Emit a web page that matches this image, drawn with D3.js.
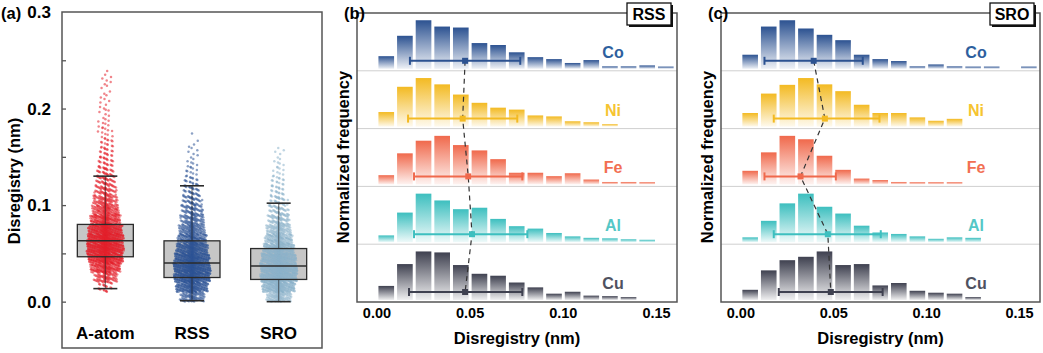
<!DOCTYPE html>
<html>
<head>
<meta charset="utf-8">
<script src="https://cdn.jsdelivr.net/npm/d3@7"></script>
<style>
  body { margin: 0; background: #fff; }
  svg { font-family: "Liberation Sans", Arial, sans-serif; font-weight: bold; }
</style>
</head>
<body>
<svg id="fig" width="1043" height="353"></svg>
<script>
// ---------------- data ----------------
// panel (a): box statistics [whiskerLow, q1, median, q3, whiskerHigh]
var boxCats = ["A-atom", "RSS", "SRO"];
var boxStats = [
  [0.0135, 0.0465, 0.063, 0.080, 0.130],
  [0.001, 0.025, 0.040, 0.063, 0.120],
  [0.000, 0.023, 0.037, 0.055, 0.102]
];
var ptColors = ["#e3202b", "#2d5495", "#8db3cb"];
// point counts per 0.01 nm bin
var binStart = [0.01, 0.00, 0.00];
var ptCounts = [
  [20, 80, 170, 260, 300, 290, 240, 170, 120, 85, 60, 45, 32, 24, 18, 14, 10, 8, 6, 5, 5, 5, 4],
  [90, 200, 280, 300, 260, 200, 150, 110, 80, 60, 45, 30, 18, 10, 7, 5, 3, 1],
  [100, 230, 310, 320, 270, 200, 140, 95, 65, 45, 30, 20, 14, 9, 6, 4]
];
var yTicksA = [0.0, 0.1, 0.2, 0.3];

// panels (b), (c): normalized histograms, bins of 0.01 nm
var elements = ["Co", "Ni", "Fe", "Al", "Cu"];
var elColors = ["#2c5291", "#f3ba22", "#f0694c", "#3dbfbf", "#3f4150"];
var labColors = ["#2e5f9e", "#f6c431", "#f26f52", "#55c7c6", "#4f5160"];
var histRSS = [
  [0.26, 0.68, 1.0, 0.87, 0.85, 0.53, 0.49, 0.34, 0.24, 0.20, 0.12, 0.18, 0.05, 0.05, 0.07, 0.04],
  [0.30, 0.82, 1.0, 0.87, 0.66, 0.49, 0.39, 0.35, 0.23, 0.21, 0.11, 0.09, 0.05],
  [0.19, 0.64, 0.90, 1.0, 0.81, 0.70, 0.52, 0.24, 0.24, 0.17, 0.23, 0.10, 0.05, 0.05, 0.03],
  [0.14, 0.61, 1.0, 0.86, 0.68, 0.71, 0.48, 0.33, 0.28, 0.19, 0.12, 0.09, 0.08, 0.06, 0.05],
  [0.29, 0.74, 1.0, 0.98, 0.72, 0.54, 0.50, 0.36, 0.26, 0.13, 0.17, 0.09, 0.08, 0.06]
];
var histSRO = [
  [0.29, 0.87, 1.0, 0.83, 0.70, 0.59, 0.29, 0.20, 0.16, 0.05, 0.09, 0.05, 0.03, 0.03, 0, 0.03],
  [0.28, 0.68, 0.86, 1.0, 0.87, 0.73, 0.45, 0.28, 0.28, 0.19, 0.12, 0.16],
  [0.28, 0.66, 1.0, 0.93, 0.59, 0.30, 0.12, 0.09, 0.05, 0.04, 0.04, 0.04],
  [0.10, 0.44, 0.80, 1.0, 0.73, 0.59, 0.34, 0.20, 0.17, 0.12, 0.07, 0.10, 0.09],
  [0.21, 0.61, 0.82, 0.89, 1.0, 0.72, 0.74, 0.30, 0.35, 0.19, 0.15, 0.13, 0.06]
];
// error bars [low, mean, high]
var errRSS = [
  [0.0177, 0.0473, 0.0769],
  [0.0167, 0.0460, 0.0753],
  [0.0199, 0.0490, 0.0780],
  [0.0199, 0.0510, 0.0807],
  [0.0172, 0.0473, 0.0780]
];
var errSRO = [
  [0.0127, 0.0392, 0.0656],
  [0.0177, 0.0452, 0.0746],
  [0.0127, 0.0321, 0.0511],
  [0.0177, 0.0468, 0.0753],
  [0.0204, 0.0484, 0.0763]
];
var xTicksH = [0.00, 0.05, 0.10, 0.15];

var svg = d3.select("#fig");
var defs = svg.append("defs");

// ####################################################################
// panel (a)
var aL = 62, aR = 322, aT = 12, aB = 348;
var xA = d3.scaleBand().domain(boxCats).range([aL, aR]).paddingOuter(0).paddingInner(0);
var yA = d3.scaleLinear().domain([-0.048, 0.3]).range([aB, aT]);
var gA = svg.append("g");

// box fills first
gA.selectAll("rect.boxFill")
  .data(boxStats)
  .join("rect")
    .attr("class", "boxFill")
    .attr("x", (d, i) => xA(boxCats[i]) + xA.bandwidth() / 2 - 28)
    .attr("width", 56)
    .attr("y", d => yA(d[3]))
    .attr("height", d => yA(d[1]) - yA(d[3]))
    .attr("fill", "#c6c6c6");

// scatter points, laid out inside each bin with a fixed jitter pattern
boxCats.forEach((c, gi) => {
  var counts = ptCounts[gi];
  var maxC = d3.max(counts);
  var cx = xA(c) + xA.bandwidth() / 2;
  var pts = [];
  counts.forEach((n, bi) => {
    var lo = binStart[gi] + bi * 0.01;
    var halfW = 5 + 13.5 * Math.sqrt(n / maxC);
    for (var k = 0; k < n; k++) {
      var fy = (k * 0.6180339 + bi * 0.37 + 0.13) % 1;
      var u = ((k * 0.7548777 + bi * 0.29 + 0.57) % 1) * 2 - 1;
      var off = halfW * Math.sign(u) * Math.pow(Math.abs(u), 1.4);
      pts.push({ x: cx + off, v: lo + fy * 0.01 });
    }
  });
  gA.append("g").selectAll("circle")
    .data(pts)
    .join("circle")
      .attr("cx", d => d.x)
      .attr("cy", d => yA(d.v))
      .attr("r", 1.25)
      .attr("fill", ptColors[gi])
      .attr("fill-opacity", 0.55);
});

// box outlines, medians, whiskers on top
boxStats.forEach((d, i) => {
  var cx = xA(boxCats[i]) + xA.bandwidth() / 2;
  var g = gA.append("g").attr("stroke", "#2b2b2b").attr("fill", "none");
  g.append("rect")
    .attr("x", cx - 28).attr("width", 56)
    .attr("y", yA(d[3])).attr("height", yA(d[1]) - yA(d[3]))
    .attr("stroke-width", 1.3);
  g.append("line").attr("x1", cx - 28).attr("x2", cx + 28)
    .attr("y1", yA(d[2])).attr("y2", yA(d[2])).attr("stroke-width", 1.5);
  g.append("line").attr("x1", cx).attr("x2", cx)
    .attr("y1", yA(d[3])).attr("y2", yA(d[4])).attr("stroke-width", 1.2).attr("stroke-opacity", 0.6);
  g.append("line").attr("x1", cx).attr("x2", cx)
    .attr("y1", yA(d[1])).attr("y2", yA(d[0])).attr("stroke-width", 1.2).attr("stroke-opacity", 0.6);
  [d[0], d[4]].forEach(w => {
    g.append("line").attr("x1", cx - 12).attr("x2", cx + 12)
      .attr("y1", yA(w)).attr("y2", yA(w)).attr("stroke-width", 1.6);
  });
});

// frame + ticks
svg.append("rect").attr("x", aL).attr("y", aT).attr("width", aR - aL).attr("height", aB - aT)
  .attr("fill", "none").attr("stroke", "#555").attr("stroke-width", 1.5);
var yAxisA = svg.append("g").attr("transform", `translate(${aL},0)`)
  .call(d3.axisRight(yA).tickValues([0, 0.05, 0.1, 0.15, 0.2, 0.25]).tickSize(4).tickFormat(""));
yAxisA.select(".domain").remove();
yAxisA.selectAll("line").attr("stroke", "#555").attr("stroke-width", 1.3);

svg.append("g").selectAll("text")
  .data(yTicksA)
  .join("text")
    .attr("x", 51)
    .attr("y", d => yA(d) + 6)
    .attr("text-anchor", "end")
    .style("font-size", "17px")
    .text(d => d3.format(".1f")(d));

svg.append("g").selectAll("text")
  .data(boxCats)
  .join("text")
    .attr("x", d => xA(d) + xA.bandwidth() / 2)
    .attr("y", 339)
    .attr("text-anchor", "middle")
    .style("font-size", "17px")
    .text(d => d);

svg.append("text").attr("transform", "translate(20,181) rotate(-90)")
  .attr("text-anchor", "middle").style("font-size", "16.5px").text("Disregistry (nm)");
svg.append("text").attr("x", 1).attr("y", 19).style("font-size", "16.5px").text("(a)");

// ####################################################################
// gradients for histogram bars
elements.forEach((e, i) => {
  var gr = defs.append("linearGradient").attr("id", "grad_" + e)
    .attr("x1", 0).attr("y1", 0).attr("x2", 0).attr("y2", 1);
  gr.append("stop").attr("offset", "0%").attr("stop-color", elColors[i]).attr("stop-opacity", 1);
  gr.append("stop").attr("offset", "100%").attr("stop-color", elColors[i]).attr("stop-opacity", 0.08);
});

function draw_hist(L, R, hist, errs, tag, panelLabel) {
  var T = 13, B = 302;
  var x = d3.scaleLinear().domain([-0.0107, 0.161]).range([L, R]);
  var rows = d3.scaleBand().domain(elements).range([T, B]);
  var rh = rows.bandwidth();
  var h = d3.scaleLinear().domain([0, 1]).range([0, rh * 0.84]);
  var g = svg.append("g");

  // separators
  g.selectAll("line.sep")
    .data(elements.slice(1))
    .join("line")
      .attr("class", "sep")
      .attr("x1", L).attr("x2", R)
      .attr("y1", d => rows(d)).attr("y2", d => rows(d))
      .attr("stroke", "#cfcfcf").attr("stroke-width", 1);

  elements.forEach((e, i) => {
    var base = rows(e) + rh - 2;
    var bins = hist[i].map((v, k) => ({ c: 0.005 + 0.01 * k, v: v })).filter(d => d.v > 0);
    g.append("g").selectAll("rect")
      .data(bins)
      .join("rect")
        .attr("x", d => x(d.c - 0.0042))
        .attr("width", x(0.0084) - x(0))
        .attr("y", d => base - Math.max(h(d.v), 2.2))
        .attr("height", d => Math.max(h(d.v), 2.2))
        .attr("fill", `url(#grad_${e})`);

    g.append("text")
      .attr("x", R - 64).attr("y", rows(e) + rh - 13)
      .attr("text-anchor", "middle")
      .attr("fill", labColors[i])
      .style("font-size", "16px")
      .text(e);
  });

  // dashed connector through the means
  var line = d3.line().x(d => x(d[1])).y((d, i) => rows(elements[i]) + rh - 10);
  g.append("path").attr("d", line(errs))
    .attr("fill", "none").attr("stroke", "#333").attr("stroke-width", 1.2)
    .attr("stroke-dasharray", "5,4");

  // error bars
  errs.forEach((d, i) => {
    var y = rows(elements[i]) + rh - 10;
    var eg = g.append("g").attr("stroke", elColors[i]).attr("stroke-width", 2);
    eg.append("line").attr("x1", x(d[0])).attr("x2", x(d[2])).attr("y1", y).attr("y2", y);
    eg.append("line").attr("x1", x(d[0])).attr("x2", x(d[0])).attr("y1", y - 4).attr("y2", y + 4);
    eg.append("line").attr("x1", x(d[2])).attr("x2", x(d[2])).attr("y1", y - 4).attr("y2", y + 4);
    eg.append("rect").attr("x", x(d[1]) - 3).attr("y", y - 3).attr("width", 6).attr("height", 6)
      .attr("fill", elColors[i]).attr("stroke", "none");
  });

  // frame
  svg.append("rect").attr("x", L).attr("y", T).attr("width", R - L).attr("height", B - T)
    .attr("fill", "none").attr("stroke", "#555").attr("stroke-width", 1.5);

  svg.append("g").selectAll("text")
    .data(xTicksH)
    .join("text")
      .attr("x", d => x(d)).attr("y", 318)
      .attr("text-anchor", "middle")
      .style("font-size", "14.5px")
      .text(d => d3.format(".2f")(d));

  svg.append("text").attr("x", (L + R) / 2).attr("y", 344)
    .attr("text-anchor", "middle").style("font-size", "16.5px").text("Disregistry (nm)");
  svg.append("text").attr("transform", `translate(${L - 8},157) rotate(-90)`)
    .attr("text-anchor", "middle").style("font-size", "16.5px").text("Normalized frequency");
  svg.append("text").attr("x", L - 13).attr("y", 19).style("font-size", "16.5px").text(panelLabel);

  // tag box with shadow
  var bw = 44, bx = R - 50, by = 3;
  svg.append("rect").attr("x", bx + 2).attr("y", by + 2).attr("width", bw).attr("height", 22).attr("fill", "#111");
  svg.append("rect").attr("x", bx).attr("y", by).attr("width", bw).attr("height", 22)
    .attr("fill", "#fff").attr("stroke", "#111").attr("stroke-width", 1.3);
  svg.append("text").attr("x", bx + bw / 2).attr("y", by + 17).attr("text-anchor", "middle")
    .style("font-size", "16px").text(tag);
}

draw_hist(357, 677, histRSS, errRSS, "RSS", "(b)");
draw_hist(721, 1040, histSRO, errSRO, "SRO", "(c)");
</script>
</body>
</html>
